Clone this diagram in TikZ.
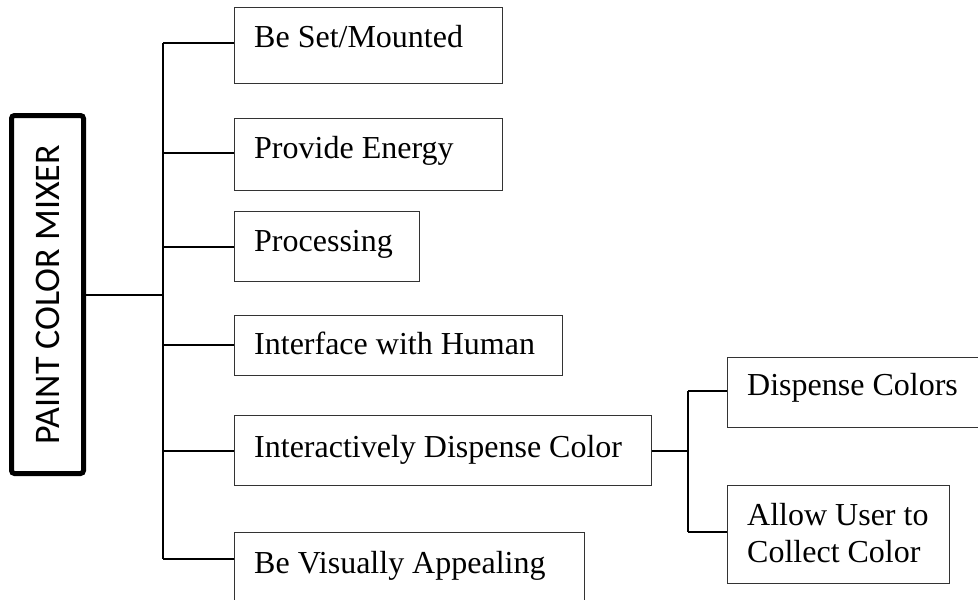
\documentclass[tikz,border=0pt]{standalone}
\usepackage{fontspec}
\setmainfont{Liberation Serif}
\newfontfamily\carlito{Carlito}
\begin{document}
\begin{tikzpicture}[x=1pt,y=-1pt,
  fbox/.style={draw=black!80, line width=1.3pt, anchor=north west, inner sep=0pt},
  lbl/.style={anchor=base west, inner sep=0pt, align=left, font=\fontsize{32}{37}\selectfont},
  conn/.style={line width=2pt, black}]
\useasboundingbox (0,0) rectangle (978,600);
% main box
\node[draw, line width=5pt, rounded corners=3pt, rotate=90, minimum width=358pt,
      minimum height=72pt, inner sep=0pt, font=\carlito\fontsize{36}{40}\selectfont]
      (main) at (47.5,294.5) {PAINT COLOR MIXER};
% function boxes
\node[fbox, minimum width=268pt, minimum height=76pt] (b1) at (234,7) {};
\node[fbox, minimum width=268pt, minimum height=72pt] (b2) at (234,118) {};
\node[fbox, minimum width=185pt, minimum height=70pt] (b3) at (234,211) {};
\node[fbox, minimum width=328pt, minimum height=60pt] (b4) at (234,315) {};
\node[fbox, minimum width=417pt, minimum height=70pt] (b5) at (234,415) {};
\node[fbox, minimum width=350pt, minimum height=74pt] (b6) at (234,532) {};
\node[fbox, minimum width=258pt, minimum height=70pt] (b7) at (727,357) {};
\node[fbox, minimum width=222pt, minimum height=98pt] (b8) at (727,485) {};
% labels
\node[lbl] (l1) at (254,47) {Be Set/Mounted};
\node[lbl] (l2) at (254,158) {Provide Energy};
\node[lbl] (l3) at (254,251) {Processing};
\node[lbl] (l4) at (254,354) {Interface with Human};
\node[lbl] (l5) at (254,457) {Interactively Dispense Color};
\node[lbl] (l6) at (254,573) {Be Visually Appealing};
\node[lbl] (l7) at (747,395) {Dispense Colors};
\node[lbl] (l8) at (747,562) {Allow User to\\Collect Color};
% trunk coordinates
\coordinate (p1) at (163,43);
\coordinate (p2) at (163,153);
\coordinate (p3) at (163,247);
\coordinate (p4) at (163,345);
\coordinate (p5) at (163,451);
\coordinate (p6) at (163,559);
\coordinate (s1) at (688,391);
\coordinate (s2) at (688,532);
% connectors
\draw[conn] (main.south) -- (main.south -| p1);
\draw[conn] (p1) -- (p6);
\draw[conn] (p1) -- (p1 -| b1.west);
\draw[conn] (p2) -- (p2 -| b2.west);
\draw[conn] (p3) -- (p3 -| b3.west);
\draw[conn] (p4) -- (p4 -| b4.west);
\draw[conn] (p5) -- (p5 -| b5.west);
\draw[conn] (p6) -- (p6 -| b6.west);
\draw[conn] (b5.east) -- (b5.east -| s1);
\draw[conn] (s1) -- (s2);
\draw[conn] (s1) -- (s1 -| b7.west);
\draw[conn] (s2) -- (s2 -| b8.west);
\end{tikzpicture}
\end{document}
